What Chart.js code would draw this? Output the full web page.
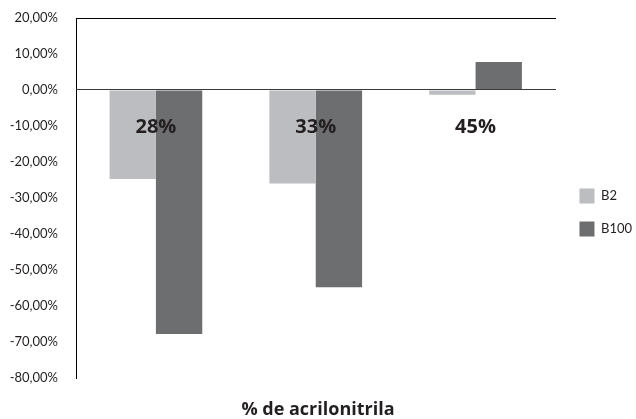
<!DOCTYPE html>
<html>
<head>
<meta charset="utf-8">
<script src="https://cdn.jsdelivr.net/npm/chart.js@4"></script>
<style>
  html, body { margin: 0; padding: 0; background: #fff; }
  #wrap { width: 636px; height: 419px; }
</style>
</head>
<body>
<div id="wrap"><canvas id="myChart"></canvas></div>
<script>
const categories = ['28%', '33%', '45%'];
const seriesNames = ['B2', 'B100'];
const b2 = [-0.247, -0.260, -0.013];
const b100 = [-0.678, -0.548, 0.078];
const yTicks = [0.2, 0.1, 0, -0.1, -0.2, -0.3, -0.4, -0.5, -0.6, -0.7, -0.8];

const font = 'Lato, "DejaVu Sans", sans-serif';
const boldFont = '"Open Sans", Lato, sans-serif';

function pct(v) {
  return (v * 100).toFixed(2).replace('.', ',') + '%';
}

// nudge the legend a bit right and up
const legendShift = {
  id: 'legendShift',
  afterLayout(chart) {
    const lg = chart.legend;
    if (lg) {
      lg.left += 6;
      lg.right += 6;
      lg.top -= 6;
      lg.bottom -= 6;
    }
  }
};

const ctx = document.getElementById('myChart');

new Chart(ctx, {
  type: 'bar',
  data: {
    labels: categories,
    datasets: [{
      label: seriesNames[0],
      data: b2,
      backgroundColor: '#bcbdc0',
      borderWidth: 0
    }, {
      label: seriesNames[1],
      data: b100,
      backgroundColor: '#6d6e70',
      borderWidth: 0
    }]
  },
  plugins: [legendShift],
  options: {
    responsive: true,
    maintainAspectRatio: false,
    animation: false,
    categoryPercentage: 0.58,
    barPercentage: 1,
    layout: { padding: { left: 0, top: 18, right: 0, bottom: 0 } },
    plugins: {
      tooltip: { enabled: false },
      legend: {
        position: 'right',
        labels: {
          boxWidth: 15,
          boxHeight: 15,
          padding: 18,
          color: '#231f20',
          font: { family: font, size: 13 }
        }
      },
      title: {
        display: true,
        position: 'bottom',
        text: '% de acrilonitrila',
        color: '#231f20',
        font: { family: boldFont, size: 18, weight: 'bold', lineHeight: 1 },
        padding: { top: 23, bottom: 0 }
      }
    },
    scales: {
      x: {
        position: { y: 0 },
        grid: { display: false, drawTicks: false },
        border: { display: true, color: '#3a3a3a', width: 1, z: 1 },
        ticks: {
          z: 1,
          padding: 25,
          color: '#231f20',
          font: { family: boldFont, size: 20, weight: 'bold' }
        }
      },
      xTop: {
        position: 'top',
        grid: { display: false, drawTicks: false },
        border: { display: true, color: '#000', width: 1 },
        ticks: { display: false },
        afterFit: s => { s.height = 0; }
      },
      y: {
        min: -0.8,
        max: 0.2,
        afterFit: s => { s.width = 76; },
        afterBuildTicks: s => { s.ticks = yTicks.map(v => ({ value: v })); },
        grid: { display: true, drawOnChartArea: false, drawTicks: true, tickLength: 18, tickColor: 'rgba(0,0,0,0)' },
        border: { display: true, color: '#000', width: 1 },
        ticks: {
          padding: 0,
          color: '#231f20',
          font: { family: font, size: 13 },
          callback: v => pct(v)
        }
      }
    }
  }
});
</script>
</body>
</html>
